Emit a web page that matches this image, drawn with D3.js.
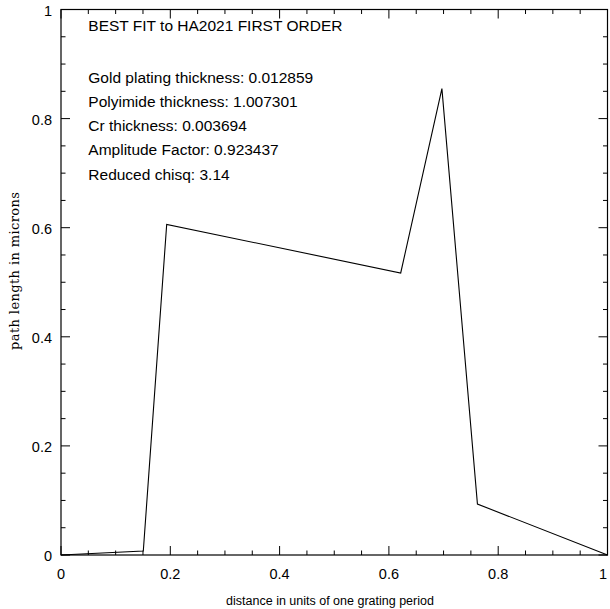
<!DOCTYPE html>
<html><head><meta charset="utf-8">
<script src="https://cdn.jsdelivr.net/npm/d3@7"></script>
<style>body{margin:0;background:#fff}svg{display:block}</style>
</head><body>
<svg id="c" width="610" height="609"></svg>
<script>
const xVals = [0, 0.1506, 0.1934, 0.6216, 0.697, 0.762, 1.0];
const yVals = [0, 0.0073, 0.606, 0.517, 0.855, 0.0934, 0];
const majorTicks = [0, 0.2, 0.4, 0.6, 0.8, 1];
const tickLabels = ["0", "0.2", "0.4", "0.6", "0.8", "1"];
const minorTicks = d3.range(0, 21).map(i => i * 0.05);
const annotations = [
  "BEST FIT to HA2021 FIRST ORDER",
  "Gold plating thickness: 0.012859",
  "Polyimide thickness: 1.007301",
  "Cr thickness: 0.003694",
  "Amplitude Factor: 0.923437",
  "Reduced chisq: 3.14"
];
const annY = [0.97, 0.874, 0.83, 0.786, 0.742, 0.697];
const xLabel = "distance in units of one grating period";
const yLabel = "path length in microns";

const L = 61, R = 607.5, T = 9.5, B = 555;
const svg = d3.select("#c");
const x = d3.scaleLinear().domain([0, 1]).range([L, R]);
const y = d3.scaleLinear().domain([0, 1]).range([B, T]);
const font = "Liberation Sans, Arial, Helvetica, sans-serif";

svg.append("rect").attr("x", L).attr("y", T).attr("width", R - L).attr("height", B - T)
  .attr("fill", "none").attr("stroke", "#000").attr("stroke-width", 1.2);

const g = svg.append("g").attr("stroke", "#000").attr("stroke-width", 1);
const isMajor = v => Math.abs(v * 5 - Math.round(v * 5)) < 1e-6;
minorTicks.forEach(v => {
  const len = isMajor(v) ? 9 : 4.5;
  g.append("line").attr("x1", x(v)).attr("x2", x(v)).attr("y1", B).attr("y2", B - len);
  g.append("line").attr("x1", x(v)).attr("x2", x(v)).attr("y1", T).attr("y2", T + len);
  g.append("line").attr("y1", y(v)).attr("y2", y(v)).attr("x1", L).attr("x2", L + len);
  g.append("line").attr("y1", y(v)).attr("y2", y(v)).attr("x1", R).attr("x2", R - len);
});

majorTicks.forEach((v, i) => {
  svg.append("text").attr("x", Math.min(x(v), 603)).attr("y", B + 24).attr("text-anchor", "middle")
    .attr("font-family", font).attr("font-size", 14.5).text(tickLabels[i]);
  svg.append("text").attr("x", L - 9).attr("y", y(v) + 6).attr("text-anchor", "end")
    .attr("font-family", font).attr("font-size", 14.5).text(tickLabels[i]);
});

svg.append("text").attr("x", 330).attr("y", 605).attr("text-anchor", "middle")
  .attr("font-family", font).attr("font-size", 12.5).text(xLabel);
svg.append("text").attr("transform", "translate(19,271) rotate(-90)")
  .attr("text-anchor", "middle").attr("font-family", "DejaVu Serif, serif")
  .attr("font-size", 13).attr("textLength", 158).attr("lengthAdjust", "spacing")
  .text(yLabel);

annotations.forEach((t, i) => {
  svg.append("text").attr("x", x(0.05)).attr("y", y(annY[i]) + 5)
    .attr("font-family", font).attr("font-size", 15.5).text(t);
});

const data = xVals.map((v, i) => [v, yVals[i]]);
svg.append("path").datum(data)
  .attr("d", d3.line().x(d => x(d[0])).y(d => y(d[1])))
  .attr("fill", "none").attr("stroke", "#000").attr("stroke-width", 1.1);
</script>
</body></html>
